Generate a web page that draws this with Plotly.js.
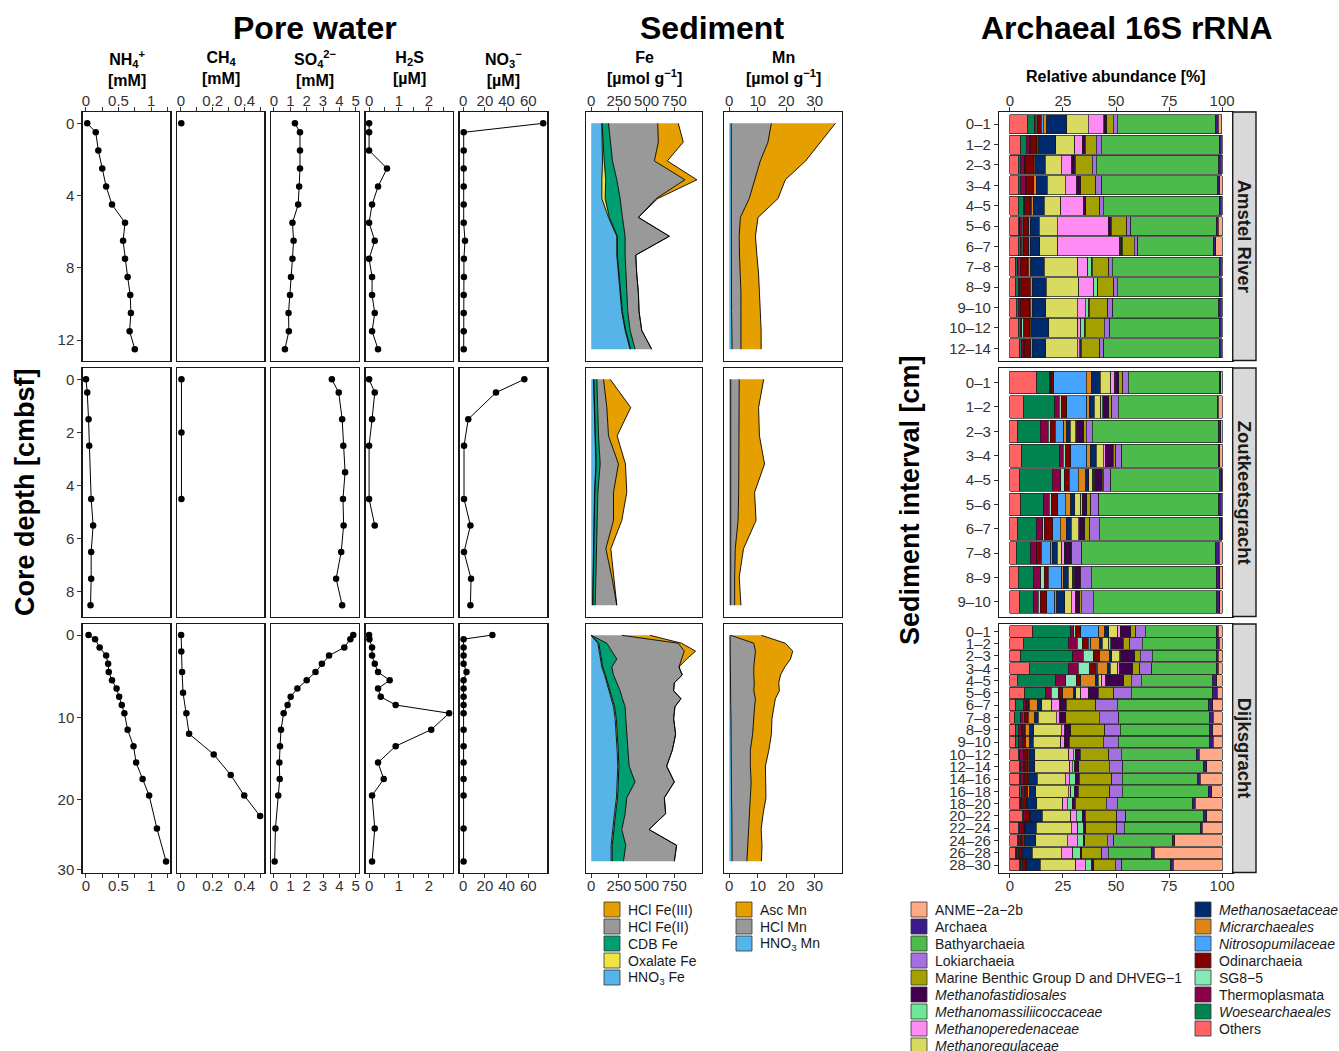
<!DOCTYPE html>
<html><head><meta charset="utf-8">
<script src="https://cdn.plot.ly/plotly-3.0.1.min.js"></script>
<style>html,body{margin:0;padding:0;background:#fff}#chart{width:1339px;height:1051px}</style>
</head><body><div id="chart"></div>
<script>
// ---------------- Pore water: Amstel River ----------------
const pwDepthA = [0,0.5,1.5,2.5,3.5,4.5,5.5,6.5,7.5,8.5,9.5,10.5,11.5,12.5];
const nh4A = [0.02,0.15,0.19,0.25,0.31,0.40,0.60,0.57,0.60,0.64,0.68,0.69,0.67,0.75];
const ch4DepthA = [0];
const ch4A = [0.002];
const so4A = [1.28,1.59,1.59,1.59,1.54,1.48,1.13,1.20,1.13,1.04,0.98,0.89,0.91,0.67];
const h2sA = [0,0,0,0.60,0.30,0.10,0,0.19,0,0.10,0.10,0.19,0.10,0.30];
const no3A = [73.8,0.4,0.4,0.4,0.4,0.4,0.4,1.6,0.6,0.6,0.4,0.4,0.4,0.4];
// ---------------- Pore water: Zoutkeetsgracht ----------------
const pwDepthZ = [0,0.5,1.5,2.5,3.5,4.5,5.5,6.5,7.5,8.5];
const nh4DepthZ = [0,0.5,1.5,2.5,4.5,5.5,6.5,7.5,8.5];
const nh4Z = [0.00,0.02,0.04,0.05,0.08,0.11,0.08,0.08,0.07];
const ch4DepthZ = [0,2,4.5];
const ch4Z = [0.003,0.003,0.003];
const so4Z = [3.54,3.96,4.17,4.24,4.35,4.22,4.26,4.11,3.80,4.17];
const h2sDepthZ = [0,0.5,1.5,2.5,4.5,5.5];
const h2sZ = [0,0.19,0.10,0,0,0.19];
const no3DepthZ = [0,0.5,1.5,2.5,4.5,5.5,6.5,7.5,8.5];
const no3Z = [56.4,30.2,4.6,0.7,0.7,6.6,0.7,7.2,6.6];
// ---------------- Pore water: Dijksgracht ----------------
const pwDepthD = [0,0.5,1.5,2.5,3.5,4.5,5.5,6.5,7.5,8.5,9.5,11.5,13.5,15.5,17.5,19.5,23.5,27.5];
const nh4D = [0.04,0.14,0.21,0.31,0.34,0.35,0.40,0.47,0.51,0.55,0.59,0.64,0.73,0.77,0.87,0.97,1.09,1.23];
const ch4DepthD = [0,2,4.5,7,9.5,12,14.5,17,19.5,22];
const ch4D = [0.001,0.002,0.007,0.013,0.034,0.051,0.206,0.313,0.398,0.498];
const so4D = [4.85,4.67,4.30,3.37,2.93,2.54,2.00,1.43,1.02,0.83,0.59,0.43,0.37,0.33,0.35,0.26,0.09,0.04];
const h2sD = [0,0.01,0.10,0.10,0.19,0.30,0.69,0.30,0.39,0.89,2.68,2.08,0.89,0.30,0.49,0.10,0.19,0.10];
const no3D = [26.9,0.3,0.3,0.3,0.3,3.0,0.3,0.3,0.3,0.3,0.3,0.3,0.3,0.3,0.3,0.3,0.3,0.3];

// ---------------- Sediment Fe / Mn ----------------
const sedDepthA = [0.5,1.5,2.5,3.5,4.5,5.5,6.5,7.5,8.5,9.5,10.5,11.5,12.5];
const feHNO3A = [96,102,102,96,96,156,231,231,246,261,276,306,351];
const feOxA   = [3,3,15,35,30,8,5,5,5,5,5,5,5];
const feCDBA  = [57,66,75,100,135,118,70,70,61,55,49,40,40];
const feHCl2A = [444,435,378,615,324,144,399,96,99,105,102,105,150];
const feHCl3A = [186,225,117,108,15,0,0,0,0,0,0,0,0];
const mnHNO3A = [0.7,0.7,0.6,0.6,0.6,0.6,0.6,0.6,0.7,0.7,0.8,0.9,1.0];
const mnHClA  = [14.1,12.9,10.3,8.3,6.4,3.3,2.9,3.0,3.2,3.4,3.3,3.2,3.1];
const mnAscA  = [22.5,18.5,15.9,10.8,10.1,6.2,5.7,6.1,6.4,6.5,6.8,7.1,7.1];

const sedDepthZ = [0.5,1.5,2.5,3.5,4.5,5.5,6.5,7.5,8.5];
const feHNO3Z = [21,27,30,42,30,24,21,12,12];
const feOxZ   = [3,3,3,3,3,3,3,3,3];
const feCDBZ  = [27,27,33,36,27,27,27,27,21];
const feHCl2Z = [60,84,90,165,141,147,81,144,195];
const feHCl3Z = [60,216,78,63,120,75,45,15,0];
const mnHNO3Z = [0.5,0.5,0.5,0.5,0.5,0.5,0.5,0.5,0.5];
const mnHClZ  = [3.0,3.0,2.8,2.8,2.8,2.6,1.6,1.4,1.4];
const mnAscZ  = [8.6,6.8,7.3,9.1,5.6,6.3,2.9,1.6,2.2];

const sedDepthD = [0.5,1.5,2.5,3.5,4.5,5.5,6.5,7.5,8.5,9.5,11,13,15,17,19,21,23,25,27,29];
const feHNO3D = [0,60,72,81,96,120,141,162,186,201,216,228,234,240,234,228,210,192,180,180];
const feOxD   = [0,8,8,8,8,8,8,8,8,10,10,10,10,10,10,10,10,10,10,10];
const feCDBD  = [0,73,106,142,82,73,82,91,88,95,86,83,86,92,152,83,86,74,122,101];
const feHCl2D = [276,645,654,585,606,621,519,483,528,450,432,441,402,339,354,339,366,246,459,459];
const feHCl3D = [255,30,102,45,0,0,0,0,0,0,0,0,0,0,0,0,0,0,0,0];
const mnHNO3D = [0.3,0.3,0.4,0.4,0.4,0.4,0.5,0.5,0.5,0.5,0.6,0.6,0.7,0.7,0.8,0.8,0.9,0.9,1.0,1.0];
const mnHClD  = [0.2,8.3,8.8,8.5,8.2,8.2,8.3,8.1,8.7,8.4,8.0,7.6,6.7,6.7,6.9,6.6,6.1,5.9,5.6,5.2];
const mnAscD  = [10.8,11.1,13.1,12.6,10.9,9.4,8.6,9.0,7.0,6.9,6.4,6.6,6.5,5.3,5.2,5.5,4.9,4.4,4.9,5.1];

const feNames = ['HNO<sub>3</sub> Fe','Oxalate Fe','CDB Fe','HCl Fe(II)','HCl Fe(III)'];
const feColors = ['#56B4E9','#F0E442','#009E73','#999999','#E69F00'];
const mnNames = ['HNO<sub>3</sub> Mn','HCl Mn','Asc Mn'];
const mnColors = ['#56B4E9','#999999','#E69F00'];

// ---------------- Archaeal 16S rRNA ----------------
const siteNames = ['Amstel River','Zoutkeetsgracht','Dijksgracht'];
const intA = ['0–1','1–2','2–3','3–4','4–5','5–6','6–7','7–8','8–9','9–10','10–12','12–14'];
const intZ = ['0–1','1–2','2–3','3–4','4–5','5–6','6–7','7–8','8–9','9–10'];
const intD = ['0–1','1–2','2–3','3–4','4–5','5–6','6–7','7–8','8–9','9–10','10–12','12–14','14–16','16–18','18–20','20–22','22–24','24–26','26–28','28–30'];
// stacking order, left to right
const taxaStack = ['Others','Woesearchaeales','Thermoplasmata','SG8-5','Odinarchaeia','Nitrosopumilaceae','Micrarchaeales','Methanosaetaceae','Methanoregulaceae','Methanoperedenaceae','Methanomassiliicoccaceae','Methanofastidiosales','Marine Benthic Group D and DHVEG-1','Lokiarchaeia','Bathyarchaeia','Archaea','ANME-2a-2b'];
const taxaColors = {'ANME-2a-2b':'#FFA987','Archaea':'#3C1A8A','Bathyarchaeia':'#4CBB4C','Lokiarchaeia':'#A66FE0','Marine Benthic Group D and DHVEG-1':'#A3A000','Methanofastidiosales':'#40004F','Methanomassiliicoccaceae':'#6FE896','Methanoperedenaceae':'#FF8CF5','Methanoregulaceae':'#D8DB5F','Methanosaetaceae':'#002A6E','Micrarchaeales':'#DE8419','Nitrosopumilaceae':'#45A4FF','Odinarchaeia':'#800000','SG8-5':'#88E8B8','Thermoplasmata':'#8B0048','Woesearchaeales':'#00834F','Others':'#FF6363'};
const taxaItalic = ['Methanofastidiosales','Methanomassiliicoccaceae','Methanoperedenaceae','Methanoregulaceae','Methanosaetaceae','Micrarchaeales','Nitrosopumilaceae','Woesearchaeales'];
const legendTaxa = ['ANME-2a-2b','Archaea','Bathyarchaeia','Lokiarchaeia','Marine Benthic Group D and DHVEG-1','Methanofastidiosales','Methanomassiliicoccaceae','Methanoperedenaceae','Methanoregulaceae','Methanosaetaceae','Micrarchaeales','Nitrosopumilaceae','Odinarchaeia','SG8-5','Thermoplasmata','Woesearchaeales','Others'];

// rows: one per interval, values in taxaStack order (%)
const abundA = [
 [8.2,3.3,1.0,0.5,1.8,0.8,1.7,9.4,10.2,7.1,0.5,1.1,3.1,1.9,46.5,1.1,1.7],
 [5.0,2.8,1.5,0.3,3.0,0.2,0.8,7.9,9.0,3.5,0.3,1.2,5.2,2.3,55.6,1.0,0.4],
 [3.9,1.1,2.0,0.3,3.9,0.2,0.8,4.4,7.5,5.0,0.2,1.6,7.9,2.0,57.6,1.1,0.5],
 [3.9,1.1,2.5,0.3,3.1,0.3,1.1,5.2,8.6,5.5,0.2,1.6,7.1,2.7,54.8,1.0,1.0],
 [3.9,2.4,0.8,0.3,2.5,0.2,0.8,5.2,7.9,10.5,0.2,1.1,6.6,1.6,54.7,1.0,0.3],
 [3.9,0.8,1.2,0.3,2.4,0.2,0.8,4.2,8.5,24.1,0.3,1.1,7.2,1.9,40.3,1.1,1.7],
 [3.9,1.0,1.0,0.3,2.4,0.2,0.8,4.4,8.5,29.2,0.6,0.6,5.8,1.6,35.6,1.1,3.0],
 [2.8,0.8,0.8,0.5,3.6,0.2,1.2,6.3,15.7,4.7,1.9,0.3,7.9,1.6,50.4,0.8,0.5],
 [2.8,1.1,0.8,0.4,4.4,0.2,0.8,6.6,15.4,7.1,1.6,0.3,7.5,1.6,48.1,1.0,0.3],
 [3.1,0.8,1.2,0.4,3.8,0.2,1.1,6.3,14.9,3.8,1.6,0.3,8.6,2.4,50.0,1.0,0.5],
 [3.9,1.0,0.8,0.8,2.8,0.2,0.8,8.0,13.7,1.3,1.9,0.3,9.0,2.5,51.7,1.0,0.3],
 [4.4,1.1,1.0,0.3,2.8,0.2,0.8,6.3,14.9,0.8,0.8,0.3,8.6,2.0,54.3,1.0,0.4]
];
const abundZ = [
 [12.6,6.0,0.6,0.3,1.1,15.3,2.5,4.2,4.9,1.9,0.6,1.4,1.7,2.7,43.0,0.6,0.6],
 [6.3,14.9,2.0,0.9,2.8,9.3,1.1,2.4,3.1,0.8,0.3,2.8,1.3,3.0,46.8,0.5,1.7],
 [3.5,10.7,3.9,0.8,2.5,3.9,1.6,1.6,2.4,0.6,0.3,3.1,1.1,2.8,59.5,1.1,0.6],
 [5.5,17.8,1.9,1.1,2.4,7.5,1.6,2.8,3.5,0.8,0.3,3.5,1.3,2.7,45.6,0.5,1.3],
 [4.4,15.6,3.9,1.6,2.4,4.4,3.5,1.3,2.0,0.5,0.3,3.6,0.5,3.5,51.3,1.0,0.4],
 [5.0,10.7,2.8,1.1,3.0,3.5,2.5,1.9,2.8,0.8,0.3,1.9,1.7,3.8,56.7,1.0,0.5],
 [3.5,8.8,3.1,0.8,4.0,3.5,2.8,2.5,3.1,0.8,0.3,2.0,2.4,4.6,56.8,0.8,0.3],
 [3.1,6.8,2.7,0.6,1.6,4.4,0.8,2.4,2.0,1.1,0.3,2.8,0.5,4.7,63.3,1.6,1.3],
 [3.9,7.1,3.5,1.6,2.0,6.3,0.8,2.4,2.0,0.6,0.3,2.4,0.5,4.9,59.0,1.6,1.3],
 [4.4,6.6,2.4,0.8,3.1,3.9,0.8,3.9,3.1,2.0,0.3,1.6,0.8,5.5,58.4,1.3,1.1]
];
const abundD = [
 [10.7,17.9,1.6,0.9,2.4,8.3,3.0,1.7,4.4,1.1,0.3,4.6,2.4,4.4,33.5,1.1,1.7],
 [6.3,21.2,4.2,2.5,2.7,1.1,4.4,1.1,3.1,0.8,0.3,5.8,3.1,5.7,35.1,1.3,1.3],
 [5.2,24.4,5.0,4.7,2.7,0.3,4.7,1.1,3.5,0.6,0.3,6.3,2.7,5.5,30.2,1.1,1.7],
 [9.1,18.4,4.7,5.5,3.1,0.3,5.0,1.3,3.5,0.6,0.3,6.0,3.5,5.5,30.4,1.1,1.7],
 [3.5,17.8,5.0,4.9,1.9,0.3,6.8,1.4,1.6,1.9,0.3,8.3,3.6,4.6,33.7,1.9,2.5],
 [7.1,9.7,2.8,3.1,2.0,0.3,5.2,0.8,2.4,3.5,0.3,4.4,7.4,8.2,38.4,2.2,2.2],
 [2.7,3.6,1.1,0.3,1.1,0.3,3.9,2.0,4.7,3.8,0.3,2.8,13.8,10.2,43.0,2.0,4.4],
 [2.4,2.7,1.3,0.3,1.6,0.3,3.0,1.7,8.5,1.6,0.3,2.7,15.7,9.1,43.1,1.6,4.1],
 [2.7,1.3,1.6,0.3,1.1,0.3,2.0,2.0,12.9,1.6,0.3,2.5,16.0,7.5,41.9,1.6,4.4],
 [2.8,1.4,1.6,0.3,1.1,0.3,1.9,1.7,12.9,1.6,0.3,2.0,16.0,7.2,43.2,1.6,4.1],
 [3.9,0.8,1.6,0.3,1.7,0.3,0.5,2.7,16.0,2.0,1.1,2.2,13.4,6.0,35.5,1.3,10.7],
 [4.4,0.8,1.3,0.3,1.6,0.3,0.5,2.5,16.4,1.3,1.1,1.9,14.5,6.4,37.9,1.6,7.2],
 [4.4,0.8,1.3,0.3,1.3,0.3,0.5,3.9,13.2,2.0,2.7,2.0,15.3,4.9,35.7,1.0,10.4],
 [4.7,0.8,1.3,0.3,1.1,0.3,0.5,3.1,15.4,1.1,2.0,1.6,14.9,5.8,40.6,1.6,4.9],
 [4.4,0.5,0.8,0.3,1.9,0.3,0.3,4.1,12.4,2.0,2.4,1.3,14.8,5.2,35.4,1.3,12.6],
 [5.8,0.6,0.8,0.3,1.6,0.3,0.3,5.5,13.4,2.7,2.8,1.3,14.9,4.2,36.7,1.6,7.2],
 [3.9,0.6,0.8,0.3,1.3,0.3,0.3,4.9,16.4,3.1,2.8,1.1,14.6,3.5,35.7,1.1,9.3],
 [3.5,0.5,0.8,0.3,1.3,0.3,0.3,5.2,14.9,4.7,2.8,0.6,10.7,3.1,27.8,0.9,22.3],
 [2.8,0.5,0.6,0.3,1.1,0.3,0.3,4.7,13.5,5.5,3.5,0.8,9.4,3.1,20.4,1.3,31.9],
 [4.4,0.6,0.8,0.3,1.3,0.3,0.3,6.3,16.8,4.4,3.1,0.8,10.2,3.1,23.0,1.3,23.0]
];

// ---------------- Layout machinery ----------------
const W = 1339, H = 1051;
const PX = v => v / W, PY = v => 1 - v / H;
const FONT = 'Liberation Sans, Arial, Helvetica, sans-serif';
const layout = {
  width: W, height: H, autosize: false,
  margin: {l: 0, r: 0, t: 0, b: 0},
  paper_bgcolor: '#fff', plot_bgcolor: '#fff',
  showlegend: false, barmode: 'stack', bargap: 0.07,
  font: {family: FONT, color: '#333', size: 14},
  annotations: [], shapes: []
};
const traces = [];
let ai = 0;
function axes(xpx, ypx, xo, yo) {
  ai++;
  const s = ai === 1 ? '' : String(ai);
  const base = {showline: true, mirror: true, linecolor: '#1a1a1a', linewidth: 1.4,
    showgrid: false, zeroline: false, ticks: '', showticklabels: false, fixedrange: true,
    tickfont: {size: 15, color: '#333', family: FONT}, ticklen: 4, tickwidth: 1, tickcolor: '#333'};
  layout['xaxis' + s] = Object.assign({}, base, {domain: [PX(xpx[0]), PX(xpx[1])], anchor: 'y' + s}, xo);
  layout['yaxis' + s] = Object.assign({}, base, {domain: [PY(ypx[1]), PY(ypx[0])], anchor: 'x' + s}, yo);
  return {xaxis: 'x' + s, yaxis: 'y' + s};
}
function ann(text, x, y, size, extra) {
  layout.annotations.push(Object.assign({text: text, x: PX(x), y: PY(y), xref: 'paper', yref: 'paper',
    showarrow: false, xanchor: 'center', yanchor: 'middle', font: {size: size, color: '#000', family: FONT}}, extra || {}));
}
function tickSide(xo, r) {
  if (r === 0) Object.assign(xo, {side: 'top', ticks: 'outside', showticklabels: true, ticklabelstandoff: -5});
  if (r === 2) Object.assign(xo, {side: 'bottom', ticks: 'outside', showticklabels: true, ticklabelstandoff: -5});
  if (r === 1) delete xo.minor;
  else if (xo.minor) xo.minor = Object.assign({ticks: 'outside', ticklen: 4, tickwidth: 1, tickcolor: '#333', showgrid: false}, xo.minor);
  return xo;
}

const rowsPx = [[112, 360.5], [368, 616.5], [624, 872.5]];

// ---- Pore water ----
const pwColsPx = [[82.7,170.3],[177,264.4],[271.2,359],[365.5,453],[459.8,547.3]];
const pwX = [
  {range: [-0.05, 1.295], tickvals: [0,0.5,1], ticktext: ['0','0.5','1'], minor: {tickvals: [0.25,0.75,1.25]}},
  {range: [-0.025, 0.525], tickvals: [0,0.2,0.4], ticktext: ['0','0.2','0.4'], minor: {tickvals: [0.1,0.3,0.5]}},
  {range: [-0.17, 5.2], tickvals: [0,1,2,3,4,5]},
  {range: [-0.12, 2.81], tickvals: [0,1,2], minor: {tickvals: [0.5,1.5,2.5]}},
  {range: [-3.2, 77.6], tickvals: [0,20,40,60]}
];
const pwY = [
  {range: [13.125, -0.625], tickvals: [0,4,8,12]},
  {range: [8.925, -0.425], tickvals: [0,2,4,6,8]},
  {range: [28.85, -1.34], tickvals: [0,10,20,28.5], ticktext: ['0','10','20','30']}
];
const pwSeries = [
  [[pwDepthA,nh4A],[ch4DepthA,ch4A],[pwDepthA,so4A],[pwDepthA,h2sA],[pwDepthA,no3A]],
  [[nh4DepthZ,nh4Z],[ch4DepthZ,ch4Z],[pwDepthZ,so4Z],[h2sDepthZ,h2sZ],[no3DepthZ,no3Z]],
  [[pwDepthD,nh4D],[ch4DepthD,ch4D],[pwDepthD,so4D],[pwDepthD,h2sD],[pwDepthD,no3D]]
];
for (let r = 0; r < 3; r++) {
  for (let c = 0; c < 5; c++) {
    const xo = tickSide(JSON.parse(JSON.stringify(pwX[c])), r);
    const yo = {range: pwY[r].range};
    if (c === 0) Object.assign(yo, {tickvals: pwY[r].tickvals, ticktext: pwY[r].ticktext, ticks: 'outside', showticklabels: true});
    const a = axes(pwColsPx[c], rowsPx[r], xo, yo);
    const s = pwSeries[r][c];
    traces.push({type: 'scatter', mode: 'lines+markers', x: s[1], y: s[0], xaxis: a.xaxis, yaxis: a.yaxis,
      line: {color: '#000', width: 1}, marker: {color: '#000', size: 6.5}, hoverinfo: 'skip'});
  }
}

// ---- Sediment ----
const sedColsPx = [[586, 702], [724, 841.7]];
const sedYRange = [[13.1, -0.1], [8.9, 0.1], [30.425, -0.925]];
const feSets = [
  [sedDepthA, [feHNO3A, feOxA, feCDBA, feHCl2A, feHCl3A]],
  [sedDepthZ, [feHNO3Z, feOxZ, feCDBZ, feHCl2Z, feHCl3Z]],
  [sedDepthD, [feHNO3D, feOxD, feCDBD, feHCl2D, feHCl3D]]
];
const mnSets = [
  [sedDepthA, [mnHNO3A, mnHClA, mnAscA]],
  [sedDepthZ, [mnHNO3Z, mnHClZ, mnAscZ]],
  [sedDepthD, [mnHNO3D, mnHClD, mnAscD]]
];
const sedX = [
  {range: [-47, 1000], tickvals: [0, 250, 500, 750]},
  {range: [-1.85, 39.5], tickvals: [0, 10, 20, 30]}
];
for (let r = 0; r < 3; r++) {
  for (let c = 0; c < 2; c++) {
    const xo = tickSide(Object.assign({}, sedX[c]), r);
    const a = axes(sedColsPx[c], rowsPx[r], xo, {range: sedYRange[r]});
    const set = c === 0 ? feSets[r] : mnSets[r];
    const cols = c === 0 ? feColors : mnColors;
    set[1].forEach((vals, k) => {
      traces.push({type: 'scatter', mode: 'lines', x: vals, y: set[0], xaxis: a.xaxis, yaxis: a.yaxis,
        stackgroup: 'sed' + r + '_' + c, orientation: 'h', fillcolor: cols[k],
        line: {color: '#000', width: 0.9}, hoverinfo: 'skip'});
    });
  }
}

// ---- Archaea ----
const arcColPx = [999.3, 1232.7];
const arcSets = [[intA, abundA], [intZ, abundZ], [intD, abundD]];
for (let r = 0; r < 3; r++) {
  const ints = arcSets[r][0], rows = arcSets[r][1];
  const xo = tickSide({range: [-5, 105], tickvals: [0, 25, 50, 75, 100]}, r);
  const yo = {type: 'category', categoryorder: 'array', categoryarray: ints,
    tickmode: 'array', tickvals: ints, ticktext: ints,
    range: [ints.length - 0.4, -0.6], ticks: 'outside', showticklabels: true};
  const a = axes(arcColPx, rowsPx[r], xo, yo);
  taxaStack.forEach((t, k) => {
    traces.push({type: 'bar', orientation: 'h', y: ints, x: rows.map(row => row[k]),
      xaxis: a.xaxis, yaxis: a.yaxis, name: t,
      marker: {color: taxaColors[t], line: {color: '#1a1a1a', width: 0.7}}, hoverinfo: 'skip'});
  });
  // strip
  layout.shapes.push({type: 'rect', xref: 'paper', yref: 'paper', x0: PX(1232.7), x1: PX(1256),
    y0: PY(rowsPx[r][1]), y1: PY(rowsPx[r][0]), fillcolor: '#D9D9D9', line: {color: '#1a1a1a', width: 1.4}});
  ann('<b>' + siteNames[r] + '</b>', 1244.5, (rowsPx[r][0] + rowsPx[r][1]) / 2, 18.5,
    {textangle: 90, font: {size: 18.5, color: '#1a1a1a', family: FONT}});
}

// ---------------- Titles & headers ----------------
ann('<b>Pore water</b>', 315, 28, 32);
ann('<b>Sediment</b>', 712, 28, 32);
ann('<b>Archaeal 16S rRNA</b>', 1126.5, 28, 32);
const pwHeads = ['NH<sub>4</sub><sup>+</sup><br>[mM]', 'CH<sub>4</sub><br>[mM]', 'SO<sub>4</sub><sup>2−</sup><br>[mM]', 'H<sub>2</sub>S<br>[µM]', 'NO<sub>3</sub><sup>−</sup><br>[µM]'];
pwHeads.forEach((h, c) => ann('<b>' + h + '</b>', (pwColsPx[c][0] + pwColsPx[c][1]) / 2, 68, 16));
ann('<b>Fe<br>[µmol g<sup>−1</sup>]</b>', 644, 68, 16);
ann('<b>Mn<br>[µmol g<sup>−1</sup>]</b>', 783, 68, 16);
ann('<b>Relative abundance [%]</b>', 1116, 77, 16);
ann('<b>Core depth [cmbsf]</b>', 25, 492, 27, {textangle: -90});
ann('<b>Sediment interval [cm]</b>', 910, 500, 27, {textangle: -90});

// ---------------- Legends ----------------
function legendItem(sx, ty, color, label) {
  layout.shapes.push({type: 'rect', xref: 'paper', yref: 'paper', x0: PX(sx), x1: PX(sx + 16),
    y0: PY(ty + 7.5), y1: PY(ty - 7.5), fillcolor: color, line: {color: '#333', width: 0.8}});
  ann(label, sx + 22, ty, 14, {xanchor: 'left', font: {size: 14, color: '#1a1a1a', family: FONT}});
}
const legStart = 909.5, legStep = 17;
[4, 3, 2, 1, 0].forEach((k, i) => legendItem(604, legStart + i * legStep, feColors[k], feNames[k]));
[2, 1, 0].forEach((k, i) => legendItem(736, legStart + i * legStep, mnColors[k], mnNames[k]));
legendTaxa.forEach((t, i) => {
  const col = i < 9 ? 0 : 1, row = i < 9 ? i : i - 9;
  const label0 = t.replace(/-/g, '−');
  const label = taxaItalic.indexOf(t) >= 0 ? '<i>' + label0 + '</i>' : label0;
  legendItem(col === 0 ? 911 : 1195, legStart + row * legStep, taxaColors[t], label);
});

Plotly.newPlot('chart', traces, layout, {staticPlot: true, displayModeBar: false});
</script></body></html>
